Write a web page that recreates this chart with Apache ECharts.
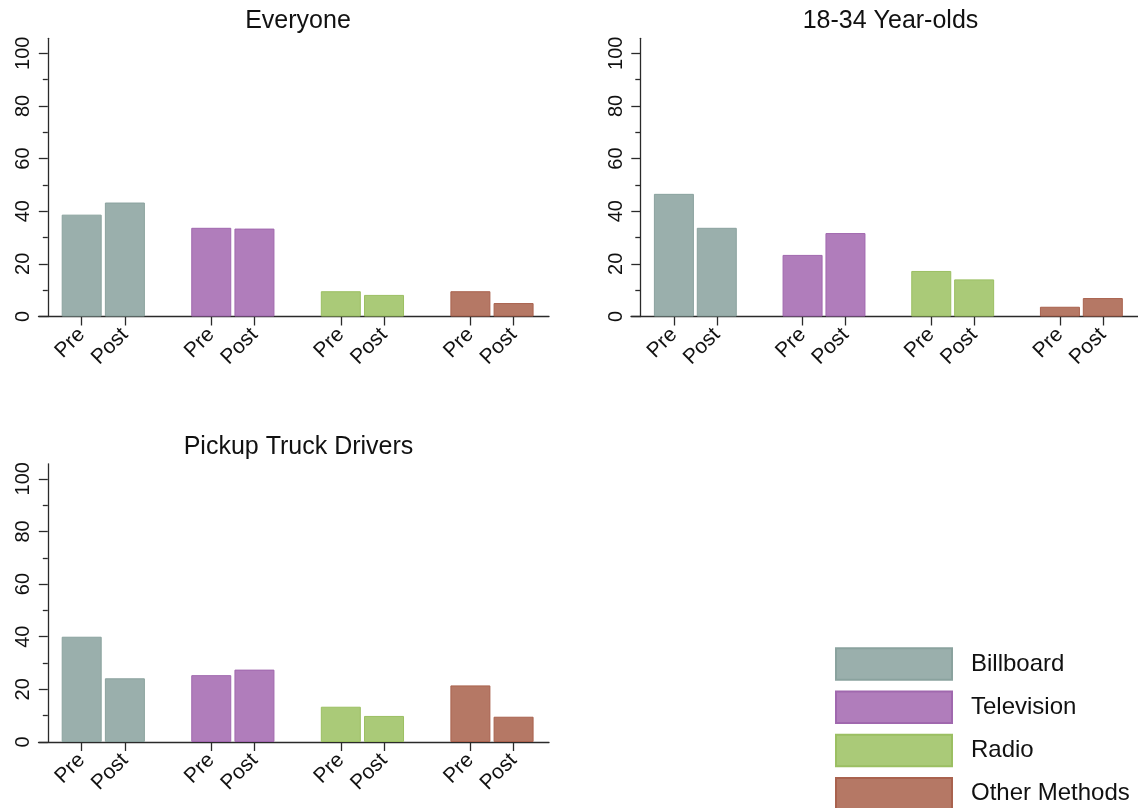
<!DOCTYPE html>
<html>
<head>
<meta charset="utf-8">
<script src="https://cdn.jsdelivr.net/npm/echarts@6/dist/echarts.min.js"></script>
<style>
  html, body { margin: 0; padding: 0; background: #fff; }
  #chart { width: 1138px; height: 808px; }
</style>
</head>
<body>
<div id="chart"></div>
<script>
// Share of people recalling each advertising method, before and after the campaign
const methods = ['Billboard', 'Television', 'Radio', 'Other Methods'];
const phases = ['Pre', 'Post'];
const panelTitles = ['Everyone', '18-34 Year-olds', 'Pickup Truck Drivers'];

// [Pre, Post] per method, in method order
const everyone = [[38.7, 43.3], [33.7, 33.4], [9.6, 8.2], [9.6, 5.1]];
const youngAdults = [[46.6, 33.7], [23.4, 31.7], [17.3, 14.1], [3.7, 7.0]];
const pickupDrivers = [[40.0, 24.2], [25.4, 27.5], [13.4, 9.9], [21.5, 9.6]];

const yTicks = [0, 20, 40, 60, 80, 100];
const yMinorTicks = [10, 30, 50, 70, 90];

const panelData = [everyone, youngAdults, pickupDrivers];
const fills = ['#9AAFAC', '#B07DBB', '#AACA78', '#B57865'];
const edges = ['#8AA29E', '#A068AE', '#9BBF62', '#A9624E'];
const FONT = '"Liberation Sans", Arial, Helvetica, sans-serif';

// Pre/Post slots along the x axis; one empty slot separates methods
const slotOf = (m, k) => 1 + 3 * m + k;
const slots = [];
methods.forEach((_, m) => phases.forEach((_, k) => slots.push(slotOf(m, k))));
const slotLabel = v => {
  const k = (Math.round(v) - 1) % 3;
  return phases[k] || '';
};

// panel placement
const panels = [
  { left: 38.5, top: 38.3, titleX: 298, titleY: 8.8 },
  { left: 631, top: 38.3, titleX: 890.5, titleY: 8.8 },
  { left: 38.5, top: 463.8, titleX: 298.5, titleY: 434.5 }
];
const PW = 510.5, PH = 278.2;
const AXIS = '#2a2a2a';

const grid = [], xAxis = [], yAxis = [], series = [], title = [];
panels.forEach((p, i) => {
  grid.push({ left: p.left, top: p.top, width: PW, height: PH, containLabel: false });
  title.push({
    text: panelTitles[i], left: p.titleX, top: p.titleY, textAlign: 'center', padding: 0,
    textStyle: { fontFamily: FONT, fontSize: 25, fontWeight: 'normal', color: '#111' }
  });
  xAxis.push({
    type: 'value', gridIndex: i, min: 0, max: 11.82,
    axisLine: { show: true, onZero: false, lineStyle: { color: AXIS, width: 1.3 } },
    axisTick: { show: true, customValues: slots, length: 9, lineStyle: { color: AXIS, width: 1.3 } },
    axisLabel: {
      customValues: slots, formatter: slotLabel, rotate: 45, margin: 15,
      fontFamily: FONT, fontSize: 21, color: '#111'
    },
    splitLine: { show: false }
  });
  // labelled axis with major ticks
  yAxis.push({
    type: 'value', gridIndex: i, position: 'left', min: 0, max: 105.7, offset: -9.3,
    axisLine: { show: true, lineStyle: { color: AXIS, width: 1.3 } },
    axisTick: { show: true, customValues: yTicks, length: 9, lineStyle: { color: AXIS, width: 1.3 } },
    axisLabel: {
      customValues: yTicks, rotate: 90, margin: 14,
      fontFamily: FONT, fontSize: 20, color: '#111'
    },
    splitLine: { show: false }
  });
  // short minor ticks between the labelled ones
  yAxis.push({
    type: 'value', gridIndex: i, position: 'left', min: 0, max: 105.7, offset: -9.3,
    axisLine: { show: false },
    axisTick: { show: true, customValues: yMinorTicks, length: 5, lineStyle: { color: AXIS, width: 1.3 } },
    axisLabel: { show: false },
    splitLine: { show: false }
  });
  methods.forEach((name, m) => {
    series.push({
      type: 'bar', name, xAxisIndex: i, yAxisIndex: 2 * i,
      barWidth: 40, barGap: '-100%',
      itemStyle: { color: fills[m], borderColor: edges[m], borderWidth: 1 },
      data: phases.map((_, k) => [slotOf(m, k), panelData[i][m][k]])
    });
  });
});

const chart = echarts.init(document.getElementById('chart'), null, { renderer: 'canvas' });
chart.setOption({
  animation: false,
  backgroundColor: '#fff',
  title,
  grid, xAxis, yAxis, series,
  legend: {
    data: methods, orient: 'vertical', left: 835, top: 647.2, height: 220, padding: 0,
    itemWidth: 116, itemHeight: 31.5, itemGap: 9.8, icon: 'rect',
    selectedMode: false,
    textStyle: { fontFamily: FONT, fontSize: 24, lineHeight: 28, color: '#111', padding: [0, 0, 0, 14] }
  }
});
</script>
</body>
</html>
